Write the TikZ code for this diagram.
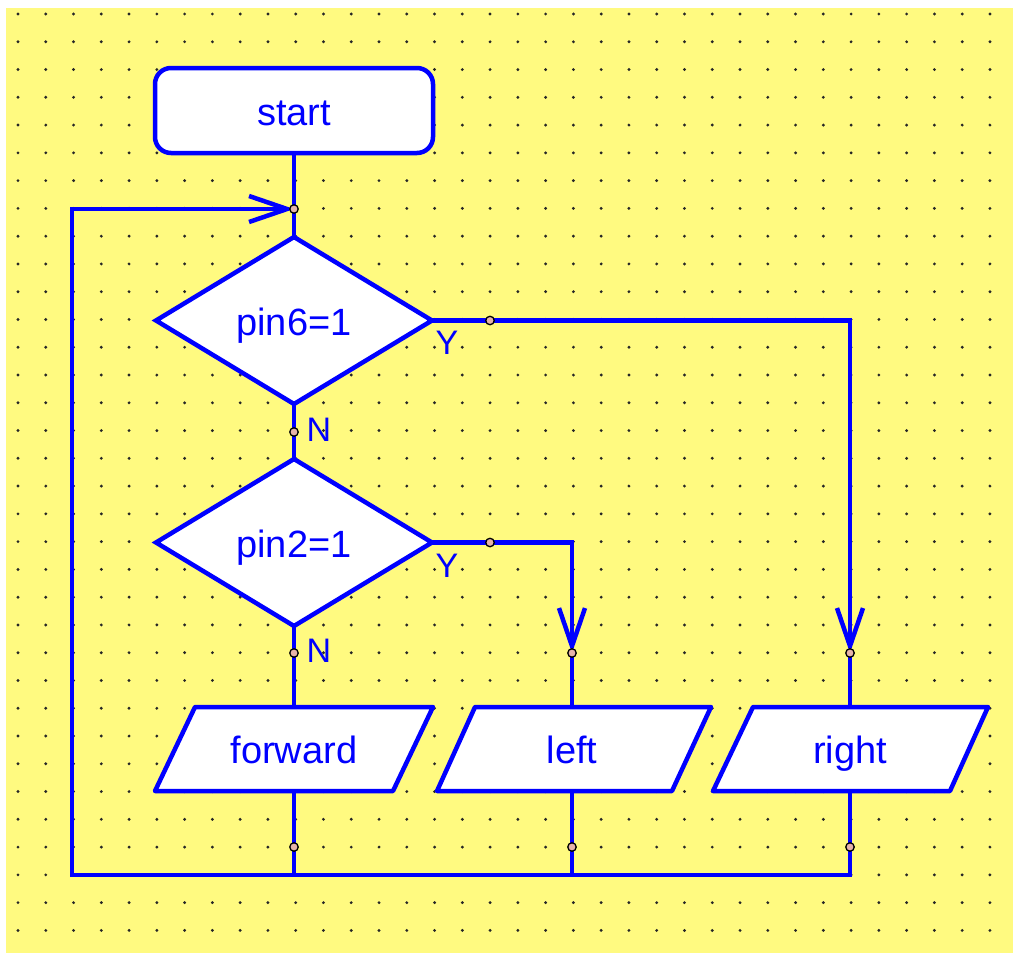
\documentclass[tikz,border=0pt]{standalone}
\usepackage{fontspec}
\setmainfont{Liberation Sans}
\usetikzlibrary{shapes.geometric,arrows.meta}
\definecolor{bg}{RGB}{255,250,128}
\definecolor{fc}{RGB}{0,0,255}
\definecolor{jp}{RGB}{230,180,170}
\begin{document}
\begin{tikzpicture}[x=1pt,y=-1pt,
 ln/.style={draw=fc,line width=4.5pt},
 txt/.style={text=fc,font=\fontsize{38}{40}\selectfont,text height=29pt,text depth=0pt},
 term/.style={ln,fill=white,rounded corners=16pt,minimum width=278pt,minimum height=85pt,inner sep=0pt,outer sep=0pt,txt},
 dec/.style={ln,fill=white,diamond,minimum width=276pt,minimum height=167pt,inner sep=0pt,outer sep=0pt,txt},
 io/.style={minimum width=200pt,minimum height=84pt,inner sep=0pt,outer sep=0pt,txt},
 para/.style={ln,fill=white,line join=round},
 jn/.style={circle,fill=jp,draw=black,line width=1.3pt,minimum size=8.5pt,inner sep=0pt},
 lbl/.style={text=fc,font=\fontsize{34}{36}\selectfont,inner sep=0pt},
 arr/.style={-{Straight Barb[length=38pt,width=26pt]}}]
\useasboundingbox (0,0) rectangle (1013,953);
\fill[bg] (6,8) rectangle (1013,953);
\foreach \i in {0,...,35}
  \foreach \j in {0,...,33}
    \fill[black!85] (18+27.77*\i,14+27.77*\j) circle[radius=1.6pt];
% shapes
\node[term] (start) at (294,110.5) {start};
\node[dec] (d1) at (294,320.5) {pin6=1};
\node[dec] (d2) at (294,542.5) {pin2=1};
\path[para] (195,707) -- (433,707) -- (393,791) -- (155,791) -- cycle;
\node[io] (fwd) at (294,749) {forward};
\path[para] (475,707) -- (711,707) -- (672,791) -- (437,791) -- cycle;
\node[io] (lft) at (572,749) {left};
\path[para] (753,707) -- (988,707) -- (950,791) -- (713,791) -- cycle;
\node[io] (rgt) at (850,749) {right};
% coordinates
\coordinate (j0) at (294,209);
\coordinate (jy1) at (490,320.5);
\coordinate (jn1) at (294,432);
\coordinate (jy2) at (490,542.5);
\coordinate (jn2) at (294,653);
\coordinate (jl) at (572,653);
\coordinate (jr) at (850,653);
\coordinate (jf) at (294,847);
\coordinate (jlb) at (572,847);
\coordinate (jrb) at (850,847);
\coordinate (b1) at (294,875);
\coordinate (b2) at (572,875);
\coordinate (b3) at (850,875);
\coordinate (lc) at (72,875);
\coordinate (tc) at (72,209);
% connectors
\draw[ln] (start.south) -- (d1.north);
\draw[ln,arr] (d1.east) -| (jr);
\draw[ln] (jr) -- (rgt.north);
\draw[ln] (d1.south) -- (d2.north);
\draw[ln,arr] (d2.east) -| (jl);
\draw[ln] (jl) -- (lft.north);
\draw[ln] (d2.south) -- (fwd.north);
\draw[ln] (fwd.south) -- (b1);
\draw[ln] (lft.south) -- (b2);
\draw[ln,arr] (rgt.south) -- (b3) -- (lc) -- (tc) -- (j0);
% junction markers
\foreach \c/\n in {j0/m0,jy1/m1,jn1/m2,jy2/m3,jn2/m4,jl/m5,jr/m6,jf/m7,jlb/m8,jrb/m9}
  \node[jn] (\n) at (\c) {};
% labels
\node[lbl] (y1) at (447,343) {Y};
\node[lbl] (n1) at (319,430) {N};
\node[lbl] (y2) at (447,566) {Y};
\node[lbl] (n2) at (319,651) {N};
\end{tikzpicture}
\end{document}
